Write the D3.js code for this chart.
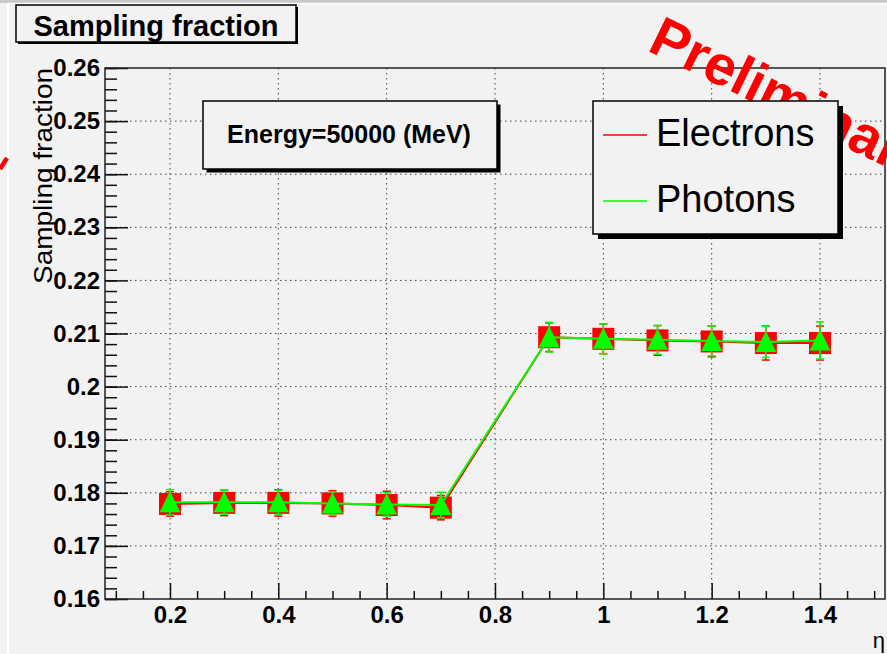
<!DOCTYPE html>
<html>
<head>
<meta charset="utf-8">
<script src="https://cdn.jsdelivr.net/npm/d3@7"></script>
<style>
    body { margin: 0; background: #f2f2f2; }
    svg { display: block; font-family: "Liberation Sans", Arial, sans-serif; }
</style>
</head>
<body>
<div id="chart"></div>
<script>
// Data
const eta = [0.2, 0.3, 0.4, 0.5, 0.6, 0.7, 0.9, 1.0, 1.1, 1.2, 1.3, 1.4];
const electrons = [0.1779, 0.1781, 0.1781, 0.1780, 0.1777, 0.1772, 0.2093, 0.2090, 0.2087, 0.2085, 0.2082, 0.2082];
const electronErr = [0.0023, 0.0024, 0.0025, 0.0024, 0.0026, 0.0023, 0.0027, 0.0028, 0.0028, 0.0029, 0.0032, 0.0032];
const photons = [0.1782, 0.1782, 0.1782, 0.1780, 0.1778, 0.1777, 0.2093, 0.2090, 0.2088, 0.2086, 0.2084, 0.2087];
const photonErr = [0.0024, 0.0022, 0.0023, 0.0022, 0.0022, 0.0024, 0.0028, 0.0028, 0.0027, 0.0028, 0.0029, 0.0035];

// Axis ranges and tick labels
const xDomain = [0.08, 1.52];
const yDomain = [0.16, 0.26];
const xTicks = [0.2, 0.4, 0.6, 0.8, 1.0, 1.2, 1.4];
const xTickLabels = ["0.2", "0.4", "0.6", "0.8", "1", "1.2", "1.4"];
const xMinorTicks = [0.1, 0.15, 0.25, 0.3, 0.35, 0.45, 0.5, 0.55, 0.65, 0.7, 0.75, 0.85, 0.9, 0.95,
    1.05, 1.1, 1.15, 1.25, 1.3, 1.35, 1.45, 1.5];
const yTicks = [0.16, 0.17, 0.18, 0.19, 0.2, 0.21, 0.22, 0.23, 0.24, 0.25, 0.26];
const yTickLabels = ["0.16", "0.17", "0.18", "0.19", "0.2", "0.21", "0.22", "0.23", "0.24", "0.25", "0.26"];

const width = 887, height = 654;
const margin = {top: 68, right: 2, bottom: 55, left: 105};

const svg = d3.select("#chart")
    .append("svg")
    .attr("width", width)
    .attr("height", height);

// Canvas background and bevel
svg.append("rect").attr("width", width).attr("height", height).attr("fill", "#f2f2f2");
svg.append("rect").attr("width", width).attr("height", 3).attr("fill", "#c8c8c8");
svg.append("line").attr("x1", 8).attr("x2", width).attr("y1", 3.5).attr("y2", 3.5)
    .attr("stroke", "#fff").attr("stroke-width", 1.5);
svg.append("line").attr("x1", 8).attr("x2", 8).attr("y1", 3).attr("y2", height)
    .attr("stroke", "#fff").attr("stroke-width", 2);

const x = d3.scaleLinear().domain(xDomain).range([margin.left, width - margin.right]);
const y = d3.scaleLinear().domain(yDomain).range([height - margin.bottom, margin.top]);

const plotLeft = x.range()[0], plotRight = x.range()[1];
const plotTop = y.range()[1], plotBottom = y.range()[0];

// Dotted grid
svg.append("g")
    .selectAll("line")
    .data(xTicks)
    .join("line")
    .attr("x1", d => x(d)).attr("x2", d => x(d))
    .attr("y1", plotTop).attr("y2", plotBottom)
    .attr("stroke", "#444").attr("stroke-width", 1).attr("stroke-dasharray", "1.5,3.5");

svg.append("g")
    .selectAll("line")
    .data(yTicks.slice(1, -1))
    .join("line")
    .attr("x1", plotLeft).attr("x2", plotRight)
    .attr("y1", d => y(d)).attr("y2", d => y(d))
    .attr("stroke", "#444").attr("stroke-width", 1).attr("stroke-dasharray", "1.5,3.5");

// Axes (ticks point inside the frame)
svg.append("g")
    .attr("transform", `translate(0, ${plotBottom})`)
    .call(d3.axisBottom(x).tickValues(xTicks).tickSize(-16).tickPadding(7)
        .tickFormat((d, i) => xTickLabels[i]));
svg.append("g")
    .attr("transform", `translate(0, ${plotBottom})`)
    .call(d3.axisBottom(x).tickValues(xMinorTicks).tickSize(-8).tickFormat(""));

const yMinorTicks = d3.range(0, 51).map(i => yDomain[0] + i * 0.002);
svg.append("g")
    .attr("transform", `translate(${plotLeft}, 0)`)
    .call(d3.axisLeft(y).tickValues(yTicks).tickSize(-23).tickPadding(5)
        .tickFormat((d, i) => yTickLabels[i]));
svg.append("g")
    .attr("transform", `translate(${plotLeft}, 0)`)
    .call(d3.axisLeft(y).tickValues(yMinorTicks).tickSize(-12).tickFormat(""));

svg.selectAll(".domain").remove();
svg.selectAll(".tick line").attr("stroke", "#111").attr("stroke-width", 1.5);
svg.selectAll(".tick text")
    .attr("fill", "#000")
    .style("font-size", "24px")
    .style("font-weight", "bold")
    .style("font-family", "'Liberation Sans', Arial, sans-serif");

// Frame
svg.append("rect")
    .attr("x", plotLeft).attr("y", plotTop)
    .attr("width", plotRight - plotLeft).attr("height", plotBottom - plotTop)
    .attr("fill", "none").attr("stroke", "#222").attr("stroke-width", 1.5);

// Axis titles
svg.append("text")
    .attr("transform", "rotate(-90)")
    .attr("x", -plotTop)
    .attr("y", 52)
    .attr("text-anchor", "end")
    .attr("textLength", 216)
    .attr("lengthAdjust", "spacingAndGlyphs")
    .style("font-size", "26px")
    .text("Sampling fraction");

svg.append("text")
    .attr("x", 885)
    .attr("y", 648)
    .attr("text-anchor", "end")
    .style("font-size", "22px")
    .text("η");

// Draws one series: line, error bars, markers
function drawSeries(values, errors, color, shape) {
    const pts = eta.map((e, i) => ({x: e, y: values[i], err: errors[i]}));
    const g = svg.append("g");

    g.append("path")
        .datum(pts)
        .attr("fill", "none")
        .attr("stroke", color)
        .attr("stroke-width", 2)
        .attr("d", d3.line().x(d => x(d.x)).y(d => y(d.y)));

    const bars = g.selectAll(".err").data(pts).join("g").attr("class", "err");
    bars.append("line")
        .attr("x1", d => x(d.x)).attr("x2", d => x(d.x))
        .attr("y1", d => y(d.y - d.err)).attr("y2", d => y(d.y + d.err))
        .attr("stroke", color).attr("stroke-width", 1.5);
    [-1, 1].forEach(s => {
        bars.append("line")
            .attr("x1", d => x(d.x) - 4).attr("x2", d => x(d.x) + 4)
            .attr("y1", d => y(d.y + s * d.err)).attr("y2", d => y(d.y + s * d.err))
            .attr("stroke", color).attr("stroke-width", 1.5);
    });

    if (shape === "square") {
        g.selectAll(".mk").data(pts).join("rect")
            .attr("x", d => x(d.x) - 11).attr("y", d => y(d.y) - 11)
            .attr("width", 22).attr("height", 22)
            .attr("fill", color);
    } else {
        g.selectAll(".mk").data(pts).join("path")
            .attr("d", d => {
                const cx = x(d.x), cy = y(d.y);
                return `M${cx - 10.5},${cy + 10} L${cx + 10.5},${cy + 10} L${cx},${cy - 11} Z`;
            })
            .attr("fill", color);
    }
}

drawSeries(electrons, electronErr, "#ff0000", "square");
drawSeries(photons, photonErr, "#00ff00", "triangle");

// Boxes with shadow
function shadowBox(x0, y0, w, h, off) {
    svg.append("rect").attr("x", x0 + off).attr("y", y0 + off).attr("width", w).attr("height", h)
        .attr("fill", "#000");
    svg.append("rect").attr("x", x0).attr("y", y0).attr("width", w).attr("height", h)
        .attr("fill", "#f2f2f2").attr("stroke", "#000").attr("stroke-width", 1.5);
}

// Title
shadowBox(16, 5, 280, 37, 2);
svg.append("text")
    .attr("x", 156).attr("y", 36)
    .attr("text-anchor", "middle")
    .style("font-size", "29px").style("font-weight", "bold")
    .text("Sampling fraction");

// Energy label
shadowBox(203, 101, 294, 68, 3.5);
svg.append("text")
    .attr("x", 349).attr("y", 143)
    .attr("text-anchor", "middle")
    .style("font-size", "25px").style("font-weight", "bold")
    .text("Energy=50000 (MeV)");

// Preliminary watermark
svg.append("text")
    .attr("transform", "translate(646, 50) rotate(26)")
    .attr("fill", "#ff0000")
    .style("font-size", "56px").style("font-weight", "bold")
    .text("Preliminary");
svg.append("line")
    .attr("x1", 0).attr("y1", 169).attr("x2", 7).attr("y2", 158)
    .attr("stroke", "#ff0000").attr("stroke-width", 4.5);

// Legend
shadowBox(593, 101, 245, 133, 5);
const legendItems = [
    {label: "Electrons", color: "#ff0000", y: 135},
    {label: "Photons", color: "#00ff00", y: 201}
];
const leg = svg.append("g").selectAll("g").data(legendItems).join("g");
leg.append("line")
    .attr("x1", 603).attr("x2", 647)
    .attr("y1", d => d.y).attr("y2", d => d.y)
    .attr("stroke", d => d.color).attr("stroke-width", 1.5);
leg.append("text")
    .attr("x", 656).attr("y", d => d.y + 11)
    .style("font-size", "38px")
    .text(d => d.label);
</script>
</body>
</html>
